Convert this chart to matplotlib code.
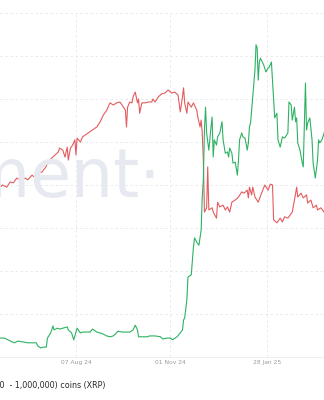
import matplotlib
matplotlib.use("Agg")
import matplotlib.pyplot as plt
import matplotlib.dates as mdates
import pandas as pd

# Day offsets are counted from 07 Aug 2024
base = pd.Timestamp("2024-08-07")

# Red series (supply held, grid units)
red_days = [-69, -67, -63, -60, -57, -54, -51, -46, -44, -40, -37, -35, -31, -28, -25,
            -22, -19, -16, -15, -12, -10, -8, -7, -5, -3, -1, 0, 1, 4, 6, 11, 15, 19,
            22, 25, 28, 31, 34, 37, 40, 42, 45, 46, 47, 49, 51, 52, 54, 56, 57, 58,
            60, 63, 66, 69, 70, 72, 75, 78, 81, 84, 87, 90, 93, 95, 97, 98, 99, 101,
            102, 105, 107, 110, 111, 113, 114, 115, 116, 117, 119, 120, 121, 124, 125,
            128, 129, 131, 134, 136, 138, 140, 142, 145, 148, 151, 153, 156, 157, 158,
            160, 161, 163, 166, 169, 172, 175, 177, 179, 180, 183, 186, 188, 190, 193,
            197, 199, 201, 202, 205, 207, 210, 211, 214, 216, 219, 220, 223, 226]
red_vals = [3.95, 4.00, 3.95, 4.07, 4.05, 4.16, 4.12, 4.16, 4.12, 4.23, 4.16, 4.28, 4.30,
            4.40, 4.53, 4.63, 4.70, 4.77, 4.86, 4.81, 4.65, 4.88, 4.58, 4.86, 4.93, 5.05,
            4.70, 5.09, 5.00, 5.12, 5.21, 5.28, 5.35, 5.47, 5.63, 5.74, 5.91, 5.86, 5.91,
            5.93, 5.86, 5.74, 5.35, 5.81, 5.93, 5.91, 6.05, 6.16, 5.91, 6.00, 5.67, 5.91,
            5.91, 5.93, 5.93, 6.00, 5.93, 6.05, 6.12, 6.14, 6.21, 6.14, 6.16, 6.09, 5.70,
            6.05, 6.26, 5.91, 5.67, 5.93, 5.81, 5.91, 5.74, 5.58, 5.35, 5.51, 5.21, 4.58,
            3.37, 3.47, 4.42, 3.42, 3.47, 3.37, 3.23, 3.60, 3.49, 3.53, 3.42, 3.49, 3.37,
            3.60, 3.65, 3.72, 3.84, 3.81, 3.88, 3.70, 3.95, 3.77, 3.95, 3.72, 3.60, 3.81,
            4.00, 3.88, 4.02, 4.00, 3.19, 3.12, 3.23, 3.14, 3.26, 3.23, 3.37, 3.65, 3.95,
            3.72, 3.81, 3.70, 3.77, 3.58, 3.65, 3.47, 3.53, 3.42, 3.47, 3.37]

# Green series (100,000 - 1,000,000 coin wallets, grid units)
green_days = [-69, -65, -62, -58, -56, -53, -48, -44, -39, -36, -35, -32, -30, -27, -26,
              -23, -21, -20, -17, -15, -12, -8, -7, -4, -2, 0, 1, 4, 6, 10, 13, 15, 19,
              22, 25, 28, 31, 34, 37, 38, 42, 46, 49, 52, 54, 56, 57, 60, 65, 67, 72, 77,
              79, 83, 86, 88, 92, 95, 97, 98, 99, 101, 102, 105, 107, 108, 110, 112, 114,
              115, 116, 117, 118, 119, 121, 123, 124, 125, 126, 128, 129, 131, 133, 134,
              136, 138, 139, 140, 142, 143, 145, 147, 148, 149, 151, 152, 154, 156, 157,
              158, 159, 160, 161, 163, 164, 165, 166, 167, 168, 170, 171, 173, 175, 176,
              178, 179, 180, 181, 183, 184, 186, 188, 190, 193, 194, 196, 197, 199, 200,
              201, 202, 204, 206, 207, 209, 210, 211, 213, 215, 216, 218, 220, 221, 222,
              224, 226]
green_vals = [0.44, 0.44, 0.40, 0.35, 0.33, 0.37, 0.35, 0.33, 0.33, 0.33, 0.26, 0.21, 0.23,
              0.23, 0.44, 0.56, 0.72, 0.63, 0.67, 0.65, 0.67, 0.70, 0.63, 0.56, 0.40, 0.58,
              0.67, 0.56, 0.58, 0.58, 0.58, 0.65, 0.58, 0.56, 0.53, 0.49, 0.47, 0.49, 0.56,
              0.60, 0.58, 0.58, 0.58, 0.63, 0.74, 0.63, 0.47, 0.47, 0.47, 0.49, 0.49, 0.47,
              0.42, 0.44, 0.44, 0.40, 0.47, 0.56, 0.63, 0.86, 0.91, 1.33, 1.86, 1.91, 2.56,
              2.77, 2.67, 2.60, 2.95, 3.72, 4.12, 5.28, 5.81, 5.21, 4.81, 5.35, 5.58, 4.65,
              5.05, 4.93, 5.12, 5.21, 5.47, 5.05, 4.74, 4.77, 4.65, 4.86, 4.74, 4.51, 4.53,
              4.23, 4.58, 5.05, 5.21, 5.12, 5.09, 4.81, 4.98, 5.35, 5.44, 5.74, 6.05, 6.67,
              7.26, 7.19, 6.44, 6.86, 6.95, 6.84, 6.79, 6.63, 6.72, 6.74, 6.86, 6.44, 6.05,
              5.56, 5.67, 5.05, 4.88, 5.12, 5.09, 5.21, 5.93, 5.86, 5.51, 5.81, 5.47, 5.56,
              4.98, 4.81, 4.53, 4.42, 6.37, 5.28, 5.44, 5.56, 5.05, 4.51, 4.16, 4.58, 5.05,
              4.98, 5.05, 5.21]

tick_dates = ["2024-08-07", "2024-11-01", "2025-01-28"]
legend_label = "Supply Distribution (100,000  - 1,000,000) coins (XRP)"

red_col = "#e35b5e"
green_col = "#2db262"
grid_col = "#e6e6ea"

fig = plt.figure(figsize=(3.24, 4.0), dpi=100)
ax = fig.add_axes([0, 0.1075, 1, 0.86])

# watermark (cropped at the left edge like the reference)
fig.text(161 / 324, 1 - 197 / 400, "santiment\u00b7", ha="right", va="baseline",
         fontsize=48, color="#e7e9f1", zorder=0)

red_x = [base + pd.Timedelta(days=d) for d in red_days]
green_x = [base + pd.Timedelta(days=d) for d in green_days]
ax.plot(red_x, red_vals, color=red_col, lw=0.8, zorder=3)
ax.plot(green_x, green_vals, color=green_col, lw=0.8, zorder=3)

ax.set_xlim(base + pd.Timedelta(days=-69.2), base + pd.Timedelta(days=225.9))
ax.set_ylim(0, 8)
ax.patch.set_alpha(0)

ticks = pd.to_datetime(tick_dates)
ax.set_xticks(ticks)
ax.xaxis.set_major_formatter(mdates.DateFormatter("%d %b %y"))
ax.set_yticks(range(0, 9))
ax.set_yticklabels([])
ax.tick_params(axis="both", length=0)
ax.tick_params(axis="x", labelsize=4.3, labelcolor="#9a9a9a", pad=2.5)
ax.grid(True, color=grid_col, lw=0.6, ls=(0, (3, 3)))
for s in ["top", "left", "right"]:
    ax.spines[s].set_visible(False)
ax.spines["bottom"].set_color("#ececec")
ax.spines["bottom"].set_linewidth(0.6)

# legend text (cropped at the left edge)
fig.text(105 / 324, 1 - 385 / 400, legend_label, ha="right", va="center",
         fontsize=5.8, color="#2a2a2a")

fig.savefig("out.png", dpi=100)
